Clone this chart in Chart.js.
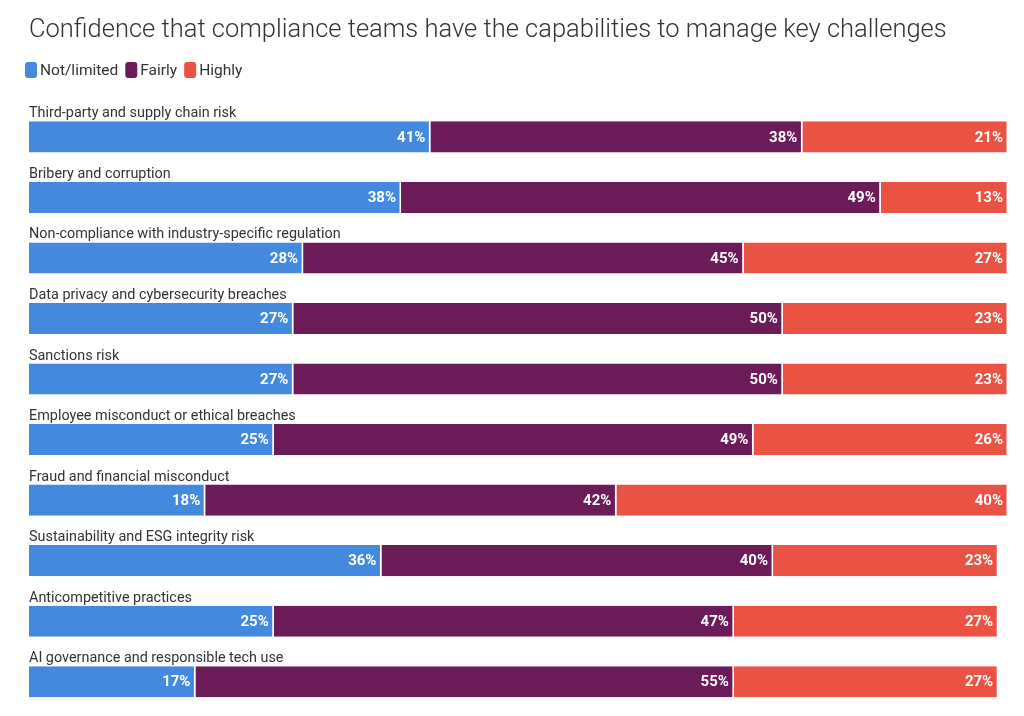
<!DOCTYPE html>
<html>
<head>
<meta charset="utf-8">
<script src="https://cdn.jsdelivr.net/npm/chart.js@4.4.1/dist/chart.umd.min.js"></script>
<style>
  html, body { margin: 0; padding: 0; background: #ffffff; }
  #wrap { width: 1024px; height: 716px; position: relative; }
</style>
</head>
<body>
<div id="wrap"><canvas id="c"></canvas></div>
<script>
const categories = [
  "Third-party and supply chain risk",
  "Bribery and corruption",
  "Non-compliance with industry-specific regulation",
  "Data privacy and cybersecurity breaches",
  "Sanctions risk",
  "Employee misconduct or ethical breaches",
  "Fraud and financial misconduct",
  "Sustainability and ESG integrity risk",
  "Anticompetitive practices",
  "AI governance and responsible tech use"
];
const notLimited = [41, 38, 28, 27, 27, 25, 18, 36, 25, 17];
const fairly     = [38, 49, 45, 50, 50, 49, 42, 40, 47, 55];
const highly     = [21, 13, 27, 23, 23, 26, 40, 23, 27, 27];
const seriesNames = ["Not/limited", "Fairly", "Highly"];
const seriesColors = ["#4389DE", "#6A1B58", "#EA5243"];
const titleText = "Confidence that compliance teams have the capabilities to manage key challenges";

const FONT = "Roboto, 'DejaVu Sans', sans-serif";

function roundRect(ctx, x, y, w, h, r) {
  ctx.beginPath();
  ctx.moveTo(x + r, y);
  ctx.lineTo(x + w - r, y);
  ctx.quadraticCurveTo(x + w, y, x + w, y + r);
  ctx.lineTo(x + w, y + h - r);
  ctx.quadraticCurveTo(x + w, y + h, x + w - r, y + h);
  ctx.lineTo(x + r, y + h);
  ctx.quadraticCurveTo(x, y + h, x, y + h - r);
  ctx.lineTo(x, y + r);
  ctx.quadraticCurveTo(x, y, x + r, y);
  ctx.closePath();
}

const labelsPlugin = {
  id: 'barLabels',
  afterDatasetsDraw(chart) {
    const ctx = chart.ctx;
    const xScale = chart.scales.x;
    ctx.save();
    // legend (built from dataset labels and colours)
    ctx.font = "400 15.5px " + FONT;
    ctx.textAlign = "left";
    ctx.textBaseline = "middle";
    let lx = 25;
    const ly = 70;
    chart.data.datasets.forEach(ds => {
      ctx.fillStyle = ds.backgroundColor;
      roundRect(ctx, lx, ly - 8, 12, 16, 3);
      ctx.fill();
      ctx.fillStyle = "#333333";
      ctx.fillText(ds.label, lx + 15, ly + 1);
      lx += 15 + ctx.measureText(ds.label).width + 7;
    });
    // category labels above each bar
    ctx.font = "400 14.4px " + FONT;
    ctx.fillStyle = "#333333";
    ctx.textAlign = "left";
    ctx.textBaseline = "alphabetic";
    const meta0 = chart.getDatasetMeta(0);
    categories.forEach((cat, i) => {
      const bar = meta0.data[i];
      const top = bar.y - bar.height / 2;
      ctx.fillText(cat, xScale.getPixelForValue(0), top - 4);
    });
    // value labels inside segments
    ctx.font = "700 15px " + FONT;
    ctx.fillStyle = "#ffffff";
    ctx.textAlign = "right";
    ctx.textBaseline = "middle";
    chart.data.datasets.forEach((ds, di) => {
      const meta = chart.getDatasetMeta(di);
      meta.data.forEach((bar, i) => {
        ctx.fillText(ds.data[i] + "%", bar.x - 5, bar.y + 1);
      });
    });
    ctx.restore();
  }
};

new Chart(document.getElementById('c'), {
  type: 'bar',
  data: {
    labels: categories,
    datasets: [notLimited, fairly, highly].map((vals, k) => ({
      label: seriesNames[k],
      data: vals,
      backgroundColor: seriesColors[k],
      borderColor: 'rgba(255,255,255,0.85)',
      borderWidth: { left: 0, right: 1.5, top: 0, bottom: 0 },
      borderSkipped: false,
      barPercentage: 0.513,
      categoryPercentage: 1.0
    }))
  },
  options: {
    responsive: true,
    maintainAspectRatio: false,
    animation: false,
    indexAxis: 'y',
    layout: { padding: { left: 29, right: 16, top: 0, bottom: 4 } },
    scales: {
      x: { stacked: true, min: 0, max: 100, display: false },
      y: { stacked: true, display: false }
    },
    plugins: {
      title: {
        display: true,
        text: titleText,
        align: 'start',
        color: '#333333',
        font: { family: FONT, size: 25.5, weight: '300' },
        padding: { top: 15, bottom: 61 }
      },
      legend: { display: false },
      tooltip: { enabled: false }
    }
  },
  plugins: [labelsPlugin]
});
</script>
</body>
</html>
